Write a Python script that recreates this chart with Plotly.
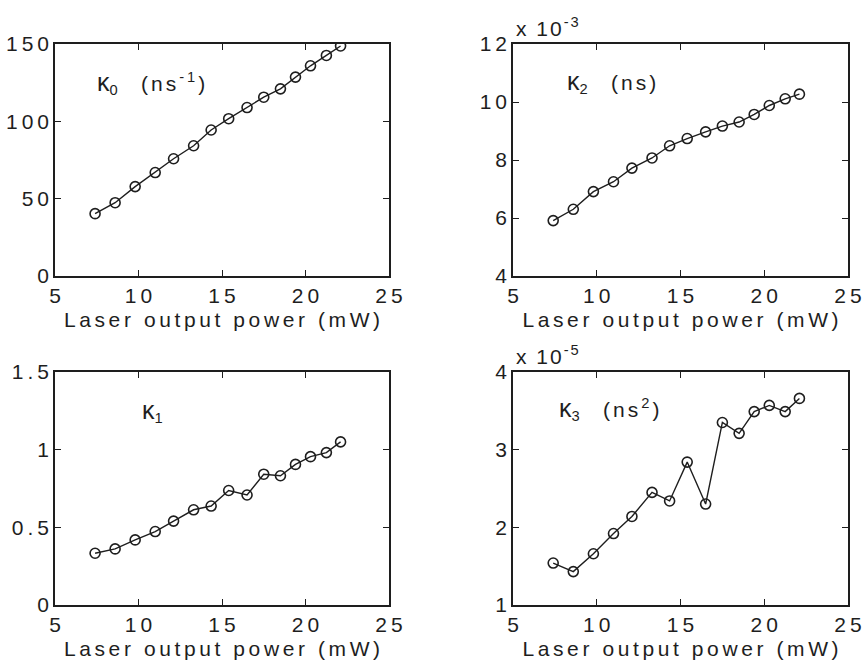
import plotly.graph_objects as go

power = [7.4, 8.6, 9.8, 11.0, 12.1, 13.3, 14.35, 15.4, 16.5, 17.5, 18.5, 19.4, 20.3, 21.25, 22.1]
kappa0 = [40.3, 47.4, 57.8, 66.9, 75.8, 84.2, 94.4, 101.7, 108.9, 115.6, 121.0, 128.6, 135.9, 142.6, 148.7]
kappa2_e3 = [5.91, 6.30, 6.91, 7.25, 7.72, 8.07, 8.49, 8.74, 8.97, 9.17, 9.31, 9.57, 9.88, 10.11, 10.27]
kappa1 = [0.333, 0.361, 0.419, 0.473, 0.540, 0.613, 0.637, 0.737, 0.708, 0.842, 0.832, 0.905, 0.955, 0.981, 1.050]
kappa3_e5 = [1.54, 1.43, 1.66, 1.92, 2.14, 2.45, 2.34, 2.84, 2.30, 3.35, 3.21, 3.49, 3.57, 3.49, 3.66]

x_ticks = [5, 10, 15, 20, 25]
y0_ticks = [0, 50, 100, 150]
y2_ticks = [4, 6, 8, 10, 12]
y1_ticks = [0, 0.5, 1, 1.5]
y3_ticks = [1, 2, 3, 4]
xlabel = "Laser output power (mW)"

INK = "#1e1e1e"
FONT = "Liberation Sans, Arial, Helvetica, sans-serif"

def sp(t, s):
    # letter spacing between characters only (no trailing gap)
    if len(t) <= 1:
        return t
    return f'<span style="letter-spacing:{s}px">{t[:-1]}</span>{t[-1]}'

def sph(t, s):
    return f'<span style="letter-spacing:{s}px">{t}</span>'

fig = go.Figure()

panels = [
    ("x", "y", kappa0),
    ("x2", "y2", kappa2_e3),
    ("x3", "y3", kappa1),
    ("x4", "y4", kappa3_e5),
]
for xa, ya, vals in panels:
    fig.add_trace(go.Scatter(
        x=power, y=vals, xaxis=xa, yaxis=ya, mode="lines+markers",
        line=dict(color=INK, width=1.4),
        marker=dict(symbol="circle-open", size=10, color=INK, line=dict(width=1.6, color=INK)),
        showlegend=False, hoverinfo="skip",
    ))

W, H = 863, 668
def dx(a, b):
    return [a / W, b / W]
def dy(top, bot):
    return [(H - bot) / H, (H - top) / H]

common_axis = dict(
    showline=True, linecolor=INK, linewidth=1.6, mirror="ticks",
    ticks="inside", ticklen=6, tickwidth=1.4, tickcolor=INK,
    showgrid=False, zeroline=False, automargin=False,
    ticklabeloverflow="allow",
    tickfont=dict(family=FONT, size=21, color=INK),
)

def xaxis(domain, anchor):
    return dict(common_axis, domain=domain, anchor=anchor, range=[5, 25],
                tickvals=x_ticks, ticktext=[sp(str(t), 4) for t in x_ticks],
                title=dict(text=sp(xlabel, 3.6), standoff=6,
                           font=dict(family=FONT, size=21, color=INK)))

def yaxis(domain, anchor, rng, ticks):
    return dict(common_axis, domain=domain, anchor=anchor, range=rng,
                tickvals=ticks, ticktext=[sp("%g" % t, 4) for t in ticks])

L1, R1 = 55, 389
L2, R2 = 513, 848
T1, B1 = 44, 276
T2, B2 = 372, 605

fig.update_layout(
    width=W, height=H, template="none",
    margin=dict(l=0, r=0, t=0, b=0, autoexpand=False),
    paper_bgcolor="white", plot_bgcolor="white",
    xaxis=xaxis(dx(L1, R1), "y"),
    yaxis=yaxis(dy(T1, B1), "x", [0, 150], y0_ticks),
    xaxis2=xaxis(dx(L2, R2), "y2"),
    yaxis2=yaxis(dy(T1, B1), "x2", [4, 12], y2_ticks),
    xaxis3=xaxis(dx(L1, R1), "y3"),
    yaxis3=yaxis(dy(T2, B2), "x3", [0, 1.5], y1_ticks),
    xaxis4=xaxis(dx(L2, R2), "y4"),
    yaxis4=yaxis(dy(T2, B2), "x4", [1, 4], y3_ticks),
)

K = '<span style="font-size:25px">κ</span>'
GAP = "&nbsp;&nbsp;&nbsp;&nbsp;"
afont = dict(family=FONT, size=21, color=INK)
ann = [
    dict(xref="x", yref="y", x=7.4, y=125, text=K + "<sub>0</sub>" + GAP + sph("(ns<sup>-1</sup>)", 3), xanchor="left"),
    dict(xref="x2", yref="y2", x=8.1, y=10.7, text=K + "<sub>2</sub>" + GAP + sph("(ns)", 3), xanchor="left"),
    dict(xref="x3", yref="y3", x=10.1, y=1.25, text=K + "<sub>1</sub>", xanchor="left"),
    dict(xref="x4", yref="y4", x=7.6, y=3.52, text=K + "<sub>3</sub>" + GAP + sph("(ns<sup>2</sup>)", 3), xanchor="left"),
    dict(xref="paper", yref="paper", x=514 / W, y=(H - T1 + 2) / H, text=sph("x 10<sup>-3</sup>", 2),
         xanchor="left", yanchor="bottom"),
    dict(xref="paper", yref="paper", x=514 / W, y=(H - T2 + 2) / H, text=sph("x 10<sup>-5</sup>", 2),
         xanchor="left", yanchor="bottom"),
]
for a in ann:
    a.update(showarrow=False, font=afont, yanchor=a.get("yanchor", "middle"))
fig.update_layout(annotations=ann)

fig.write_html("out.html")
